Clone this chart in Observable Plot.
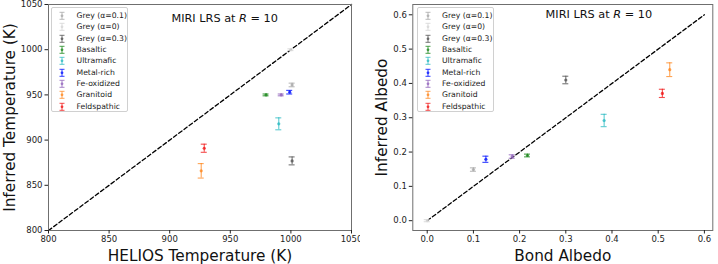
<!DOCTYPE html>
<html>
<head>
<meta charset="utf-8">
<script src="https://cdn.jsdelivr.net/npm/d3@7"></script>
<script src="https://cdn.jsdelivr.net/npm/@observablehq/plot@0.6"></script>
<style>
  html, body { margin: 0; padding: 0; background: #fff; }
  #wrap { display: flex; width: 718px; height: 264px; font-family: "DejaVu Sans", sans-serif; }
  .panel { position: relative; }
  .panel svg { overflow: visible; }
  .legend { position: absolute; top: 7px; height: 105px; background: #fff; border: 1px solid #d0d0d0; border-radius: 2px; font-size: 7.7px; color: #222; box-sizing: border-box; padding-top: 2px; }
  .legend .row { position: relative; height: 11.33px; line-height: 11.33px; white-space: nowrap; }
  .legend svg { position: absolute; top: 0; }
  .legend span { position: absolute; }
</style>
</head>
<body>
<div id="wrap"></div>
<script>
// ---- data ----
const names = ["Grey (\u03b1=0.1)", "Grey (\u03b1=0)", "Grey (\u03b1=0.3)", "Basaltic", "Ultramafic", "Metal-rich", "Fe-oxidized", "Granitoid", "Feldspathic"];
const colors = ["#a9a9a9", "#d6d6d6", "#555555", "#1f8a1f", "#1ab5bd", "#1020ff", "#9467bd", "#ff7f0e", "#f01010"];
const opac = [0.8, 0.8, 0.8, 0.8, 0.7, 0.85, 0.8, 0.7, 0.75];
const heliosT = [1001, 1000, 1001, 979.5, 990, 999, 992, 926, 928.5];
const inferredT = [961, 1000, 877, 950, 918, 953, 950, 866, 891];
const errT = [2, 1, 4.4, 1, 6.6, 2, 1, 8, 4.5];
const bondA = [0.1, 0.0, 0.3, 0.217, 0.383, 0.127, 0.184, 0.525, 0.509];
const inferredA = [0.149, 0.0, 0.41, 0.19, 0.292, 0.179, 0.187, 0.44, 0.371];
const errA = [0.005, 0.003, 0.011, 0.004, 0.018, 0.009, 0.005, 0.02, 0.012];
const ticksT = [800, 850, 900, 950, 1000, 1050];
const ticksA = [0.0, 0.1, 0.2, 0.3, 0.4, 0.5, 0.6];
const diagT = [800, 1050];
const diagA = [0.0, 0.6];

function panel(opts) {
  const {xs, ys, es, xTicks, yTicks, fmt, xDomain, yDomain, diag, xLabel, yLabel,
         width, mLeft, mRight, yLabelDx, rDx, titleDy} = opts;
  const rows = names.map((n, i) => ({name: n, x: xs[i], y: ys[i], e: es[i], c: colors[i], o: opac[i]}));
  const line = diag.map(v => ({x: v, y: v}));
  const font = 'font-family:"DejaVu Sans",sans-serif;';
  return Plot.plot({
    width, height: 264,
    marginLeft: mLeft, marginRight: mRight, marginTop: 4, marginBottom: 34,
    style: "background:#fff;" + font,
    x: {domain: xDomain, ticks: xTicks, tickFormat: fmt},
    y: {domain: yDomain, ticks: yTicks, tickFormat: fmt},
    marks: [
      Plot.line(line, {x: "x", y: "y", stroke: "#000", strokeWidth: 1.3, strokeDasharray: "4,2.5"}),
      Plot.ruleX(rows, {x: "x", y1: d => d.y - d.e, y2: d => d.y + d.e, stroke: d => d.c, strokeOpacity: d => d.o, strokeWidth: 1.1}),
      Plot.ruleY(rows, {y: d => d.y - d.e, x1: "x", x2: "x", insetLeft: -3, insetRight: -3, stroke: d => d.c, strokeOpacity: d => d.o, strokeWidth: 1.1}),
      Plot.ruleY(rows, {y: d => d.y + d.e, x1: "x", x2: "x", insetLeft: -3, insetRight: -3, stroke: d => d.c, strokeOpacity: d => d.o, strokeWidth: 1.1}),
      Plot.dot(rows, {x: "x", y: "y", r: 1.6, fill: d => d.c, fillOpacity: d => d.o, stroke: "none"}),
      Plot.frame({stroke: "#6f6f6f", strokeWidth: 1}),
      Plot.axisX({ticks: xTicks, tickFormat: fmt, tickSize: 3.5, tickPadding: 2, fontSize: 8.5, label: null, color: "#222"}),
      Plot.axisY({ticks: yTicks, tickFormat: fmt, tickSize: 3.5, tickPadding: 2.5, fontSize: 8.5, label: null, color: "#222"}),
      Plot.text([xLabel], {frameAnchor: "bottom", textAnchor: "middle", lineAnchor: "middle", dy: 25.7, fontSize: 15.3, fill: "#111"}),
      Plot.text([yLabel], {frameAnchor: "left", textAnchor: "middle", lineAnchor: "middle", rotate: -90, dx: yLabelDx, fontSize: 15.3, fill: "#111"}),
      Plot.text(["MIRI LRS at"], {frameAnchor: "top-left", textAnchor: "end", lineAnchor: "middle", dx: rDx - 7.5, dy: titleDy, fontSize: 11.3, fill: "#111"}),
      Plot.text(["R"], {frameAnchor: "top-left", textAnchor: "middle", lineAnchor: "middle", dx: rDx, dy: titleDy, fontSize: 11.3, fontStyle: "italic", fill: "#111"}),
      Plot.text(["= 10"], {frameAnchor: "top-left", textAnchor: "start", lineAnchor: "middle", dx: rDx + 7.5, dy: titleDy, fontSize: 11.3, fill: "#111"})
    ]
  });
}

function legend(left, width, glyphX, textX) {
  const box = document.createElement("div");
  box.className = "legend";
  box.style.left = left + "px";
  box.style.width = width + "px";
  names.forEach((n, i) => {
    const row = document.createElement("div");
    row.className = "row";
    const svg = d3.create("svg").attr("width", 10).attr("height", 11.33).style("left", (glyphX - 5) + "px");
    const g = svg.append("g").attr("stroke", colors[i]).attr("stroke-opacity", opac[i]).attr("stroke-width", 1);
    g.append("line").attr("x1", 5).attr("x2", 5).attr("y1", 2.3).attr("y2", 9.3);
    g.append("line").attr("x1", 2.5).attr("x2", 7.5).attr("y1", 2.3).attr("y2", 2.3);
    g.append("line").attr("x1", 2.5).attr("x2", 7.5).attr("y1", 9.3).attr("y2", 9.3);
    svg.append("circle").attr("cx", 5).attr("cy", 5.8).attr("r", 1.4).attr("fill", colors[i]).attr("fill-opacity", opac[i]);
    row.appendChild(svg.node());
    const s = document.createElement("span");
    s.style.left = textX + "px";
    s.textContent = n;
    row.appendChild(s);
    box.appendChild(row);
  });
  return box;
}

const wrap = document.getElementById("wrap");

const p1 = document.createElement("div");
p1.className = "panel";
p1.style.width = "360px";
p1.appendChild(panel({
  xs: heliosT, ys: inferredT, es: errT, xTicks: ticksT, yTicks: ticksT, fmt: d3.format("d"),
  xDomain: [800, 1050], yDomain: [800, 1050], diag: diagT,
  xLabel: "HELIOS Temperature (K)", yLabel: "Inferred Temperature (K)",
  width: 360, mLeft: 48, mRight: 9, yLabelDx: -38, rDx: 194.5, titleDy: 14
}));
p1.appendChild(legend(51, 77, 10, 24.5));
wrap.appendChild(p1);

const p2 = document.createElement("div");
p2.className = "panel";
p2.style.width = "358px";
p2.appendChild(panel({
  xs: bondA, ys: inferredA, es: errA, xTicks: ticksA, yTicks: ticksA, fmt: d3.format(".1f"),
  xDomain: [-0.0312, 0.6182], yDomain: [-0.0286, 0.630], diag: diagA,
  xLabel: "Bond Albedo", yLabel: "Inferred Albedo",
  width: 358, mLeft: 52.3, mRight: 5.7, yLabelDx: -30.6, rDx: 204.4, titleDy: 10.3
}));
p2.appendChild(legend(56.7, 77.6, 10, 24.3));
wrap.appendChild(p2);
</script>
</body>
</html>
